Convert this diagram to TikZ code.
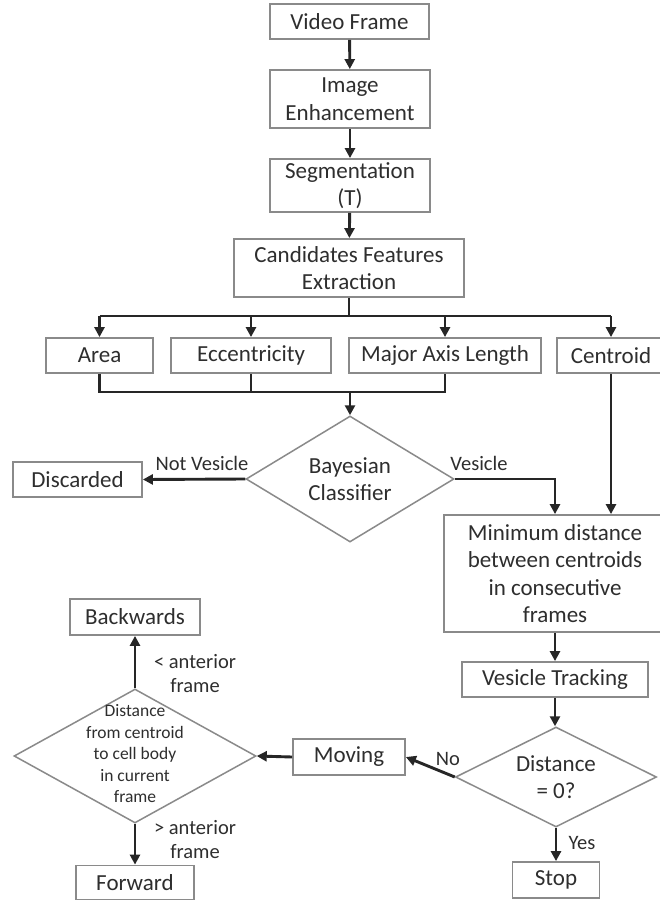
\documentclass[tikz,border=0pt]{standalone}
\usepackage{fontspec}
\setmainfont{Carlito}
\usetikzlibrary{shapes.geometric,arrows.meta}
\definecolor{edgegray}{HTML}{8A8A8A}
\definecolor{ink}{HTML}{2E2E2E}
\definecolor{arrowink}{HTML}{262626}
\newcommand\fsmain{\fontsize{23}{27.5}\selectfont}
\newcommand\fslabel{\fontsize{20.5}{24}\selectfont}
\newcommand\fssmall{\fontsize{17.5}{21.5}\selectfont}

\begin{document}
\begin{tikzpicture}[x=1pt,y=-1pt,
  box/.style={rectangle,draw=edgegray,line width=1.8pt,inner sep=0pt,
    align=center,text=ink,font=\fsmain,minimum height=35pt},
  decision/.style={diamond,draw=edgegray,line width=1.5pt,inner sep=0pt,
    align=center,text=ink,font=\fsmain},
  lab/.style={text=ink,font=\fslabel,inner sep=0pt,align=center},
  conn/.style={draw=arrowink,line width=2.9pt},
  arr/.style={conn,-{Triangle[length=10pt,width=10pt]}}]

% page
\fill[white] (0,0) rectangle (659,901);
\useasboundingbox (0,0) rectangle (659,901);

% main pipeline
\node[box,minimum width=159pt] (vf) at (349.5,21.5) {Video Frame};
\node[box,minimum width=160pt,minimum height=58pt] (ie) at (350,99) {Image\\Enhancement};
\node[box,minimum width=160pt,minimum height=53pt] (seg) at (350,185.5) {Segmentation\\(T)};
\node[box,minimum width=230pt,minimum height=58pt] (cfe) at (349,268) {Candidates Features\\Extraction};

% features
\node[box,minimum width=107pt] (area) at (99.5,355.5) {Area};
\node[box,minimum width=160pt] (ecc) at (251,355.5) {Eccentricity};
\node[box,minimum width=192pt] (mal) at (445,355.5) {Major Axis Length};
\node[box,minimum width=108pt] (cen) at (611,355.5) {Centroid};

% classification
\node[decision,minimum width=208pt,minimum height=126pt,aspect=1.65] (bay) at (350,479) {Bayesian\\Classifier};
\node[box,minimum width=129pt] (disc) at (77.5,479.5) {Discarded};
\node[box,minimum width=222pt,minimum height=117pt] (mind) at (555,573.5)
  {Minimum distance\\between centroids\\in consecutive\\frames};

% tracking
\node[box,minimum width=186pt] (vt) at (555,679.5) {Vesicle Tracking};
\node[decision,minimum width=201pt,minimum height=100pt,aspect=2] (dist) at (556,777) {Distance\\= 0?};
\node[box,minimum width=87pt,minimum height=36pt] (stop) at (556,880) {Stop};
\node[box,minimum width=112pt,minimum height=36pt] (mov) at (349,757) {Moving};

% direction decision
\node[decision,minimum width=242pt,minimum height=134pt] (dd) at (135,756) {};
\node[text=ink,font=\fssmall,align=center,inner sep=0pt] (ddtext) at (135,754)
  {Distance\\from centroid\\to cell body\\in current\\frame};
\node[box,minimum width=130pt,minimum height=36pt] (back) at (135,617) {Backwards};
\node[box,minimum width=118pt,minimum height=34pt] (fwd) at (135,882.5) {Forward};

% pipeline arrows
\draw[arr] (vf) -- (ie);
\draw[arr] (ie) -- (seg);
\draw[arr] (seg) -- (cfe);

% fan-out to the features
\coordinate (bus) at (349,316);
\draw[conn] (cfe.south) -- (bus);
\draw[conn] (area.north |- bus) -- (cen.north |- bus);
\foreach \f in {area,ecc,mal,cen}
  \draw[arr] (\f.north |- bus) -- (\f.north);

% merge into the classifier
\coordinate (merge) at (350,392);
\draw[conn] (area.south) -- (area.south |- merge) -- (mal.south |- merge) -- (mal.south);
\draw[conn] (ecc.south) -- (ecc.south |- merge);
\draw[arr] (merge) -- (bay.north);

% classifier outcomes
\draw[arr] (bay.west) -- (disc.east);
\node[lab] (lnv) at (202,463) {Not Vesicle};
\draw[arr] (bay.east) -| (mind.north);
\node[lab] (lv) at (479,463) {Vesicle};
\draw[arr] (cen.south) -- (cen.south |- mind.north);

% tracking arrows
\draw[arr] (mind) -- (vt);
\draw[arr] (vt.south) -- (vt.south |- dist.north);
\draw[arr] (dist.south) -- (stop.north);
\node[lab] (lyes) at (582,843) {Yes};
\draw[arr] (dist.west) -- (mov.east);
\node[lab] (lno) at (448,759) {No};
\draw[arr] (mov.west) -- (dd.east);

% direction outcomes
\draw[arr] (dd.north) -- (back.south);
\node[lab] (lback) at (195,674) {< anterior\\frame};
\draw[arr] (dd.south) -- (fwd.north);
\node[lab] (lfwd) at (195,840) {> anterior\\frame};
\end{tikzpicture}
\end{document}
